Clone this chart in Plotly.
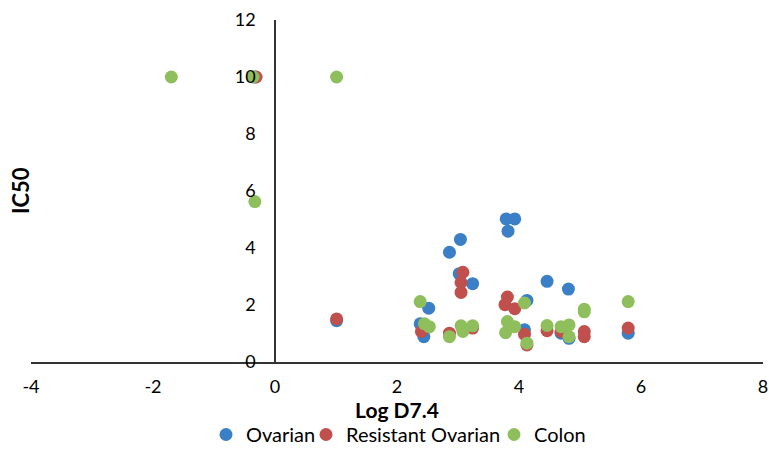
import plotly.graph_objects as go

ovarian_x = [1.01, 2.38, 2.44, 2.52, 2.86, 3.02, 3.04, 3.24, 3.79, 3.82, 3.93, 4.09, 4.13, 4.46, 4.69, 4.81, 4.82, 5.79, -0.33]
ovarian_y = [1.45, 1.34, 0.89, 1.89, 3.85, 3.10, 4.30, 2.75, 5.02, 4.59, 5.02, 1.13, 2.16, 2.83, 1.01, 2.56, 0.83, 1.01, 10.0]

resistant_x = [-0.31, 1.01, 2.40, 2.86, 3.05, 3.05, 3.08, 3.24, 3.77, 3.81, 3.93, 4.09, 4.13, 4.46, 4.69, 5.07, 5.07, 5.79]
resistant_y = [10.0, 1.51, 1.07, 1.01, 2.44, 2.79, 3.15, 1.19, 2.01, 2.28, 1.87, 0.97, 0.60, 1.10, 1.07, 1.07, 0.89, 1.19]

colon_x = [-1.70, -0.36, -0.33, 1.01, 2.38, 2.45, 2.53, 2.86, 3.05, 3.08, 3.24, 3.78, 3.81, 3.93, 4.09, 4.13, 4.46, 4.69, 4.82, 4.82, 5.07, 5.07, 5.79]
colon_y = [10.0, 10.0, 5.63, 10.0, 2.12, 1.34, 1.24, 0.89, 1.27, 1.07, 1.27, 1.03, 1.42, 1.24, 2.07, 0.66, 1.28, 1.24, 1.30, 0.89, 1.85, 1.76, 2.12]

x_ticks = [-4, -2, 0, 2, 4, 6, 8]
x_tick_text = ["-4", "-2", "0", "2", "4", "6", "8"]
y_ticks = [0, 2, 4, 6, 8, 10, 12]

FONT = "Lato, 'Open Sans', sans-serif"
L, R = 31, 6
PW = 769 - L - R

series = [
    ("Ovarian", ovarian_x, ovarian_y, "#3b7fc6", "legend", 226),
    ("Resistant Ovarian", resistant_x, resistant_y, "#c0504d", "legend2", 326),
    ("Colon", colon_x, colon_y, "#8fbf5c", "legend3", 514),
]

fig = go.Figure()
legends = {}
for name, xs, ys, col, lg, dot_px in series:
    fig.add_trace(go.Scatter(x=xs, y=ys, mode="markers", name=name, legend=lg,
                             marker=dict(size=13, color=col, line=dict(width=0))))
    legends[lg] = dict(orientation="h", x=(dot_px - 20 - L) / PW, xanchor="left",
                       y=-0.212, yanchor="middle", font=dict(size=20),
                       itemwidth=30, bgcolor="rgba(0,0,0,0)")

fig.update_layout(
    width=769, height=457,
    margin=dict(l=L, r=R, t=20, b=95, autoexpand=False),
    plot_bgcolor="white", paper_bgcolor="white",
    font=dict(family=FONT, size=18, color="black"),
    showlegend=True,
    xaxis=dict(range=[-4, 8], tickvals=x_ticks, ticktext=x_tick_text, showgrid=False, zeroline=False,
               showline=True, linecolor="#333333", linewidth=1.5, ticks="",
               ticklabelstandoff=8, ticklabeloverflow="allow", automargin=False,
               tickfont=dict(size=18),
               title=dict(text="<b>Log D7.4</b>", font=dict(size=21), standoff=4)),
    yaxis=dict(range=[0, 12], tickvals=y_ticks, showgrid=False, zeroline=False,
               showline=True, linecolor="#333333", linewidth=1.5, ticks="",
               anchor="free", position=1/3, ticklabelstandoff=15, automargin=False,
               tickfont=dict(size=18)),
    annotations=[dict(text="<b>IC50</b>", x=(20 - L) / PW, xref="paper", y=0.5, yref="paper",
                      showarrow=False, textangle=-90, font=dict(size=22),
                      xanchor="center", yanchor="middle")],
)
fig.update_layout(**legends)

fig.write_html("out.html")
